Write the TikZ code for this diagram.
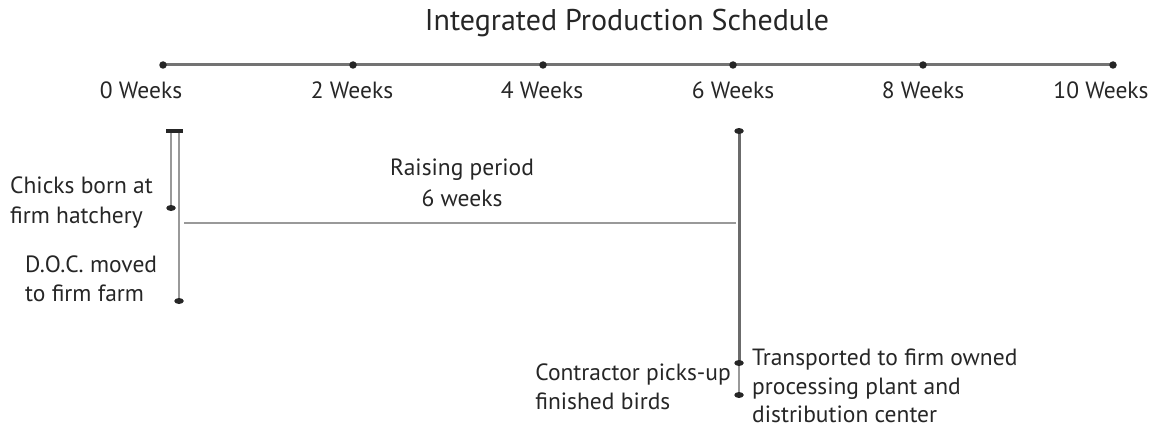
\documentclass[tikz,border=0pt]{standalone}
\usepackage{fontspec}
\usetikzlibrary{shapes.geometric}
\setmainfont{PT Sans}
\begin{document}
\begin{tikzpicture}[x=1pt,y=-1pt,
  lbl/.style={inner sep=0pt,font=\fontsize{23.5}{29}\selectfont,text=black!85},
  wk/.style={lbl,anchor=base},
  ln/.style={lbl,anchor=base west},
  axis/.style={line width=3pt,draw=black!55},
  bar/.style={line width=2.8pt,draw=black!40},
  dot/.style={circle,fill=black!85,inner sep=0pt,minimum size=7.5pt},
  flat/.style={ellipse,fill=black!85,inner sep=0pt,minimum width=9.5pt,minimum height=6pt}]
\useasboundingbox (0,0) rectangle (1154,428);

% title
\node[lbl,anchor=base,font=\fontsize{30}{36}\selectfont] (title) at (627,31) {Integrated Production Schedule};

% time axis with tick dots and week labels
\foreach \i/\x in {0/163,1/353,2/543,3/733,4/923,5/1113}
  \coordinate (t\i) at (\x,65);
\draw[axis] (t0) -- (t5);
\foreach \i in {0,...,5} \node[dot] (d\i) at (t\i) {};
\node[wk] (w0) at (141,98) {0 Weeks};
\node[wk] (w2) at (352,98) {2 Weeks};
\node[wk] (w4) at (542,98) {4 Weeks};
\node[wk] (w6) at (733,98) {6 Weeks};
\node[wk] (w8) at (923,98) {8 Weeks};
\node[wk] (w10) at (1101,98) {10 Weeks};

% hatchery and farm markers
\coordinate (a1) at (171,131);
\coordinate (a2) at (171,208);
\coordinate (b1) at (179,131);
\coordinate (b2) at (179,301);
\draw[bar] (a1) -- (a2);
\draw[bar] (b1) -- (b2);
\draw[line width=3.2pt,draw=black!85] (166,131) -- (183,131);
\node[flat] (ea) at (a2) {};
\node[flat] (eb) at (b2) {};

% raising period
\coordinate (r1) at (184,223);
\coordinate (r2) at (736,223);
\draw[bar] (r1) -- (r2);
\node[lbl,anchor=base] (raise1) at (462,175) {Raising period};
\node[lbl,anchor=base] (raise2) at (462,206) {6 weeks};

% pick-up and transport
\coordinate (c1) at (739,131);
\coordinate (c2) at (739,363);
\coordinate (c3) at (739,395);
\draw[line width=3pt,draw=black!58] (c1) -- (c2);
\draw[bar] (c2) -- (c3);
\node[flat] (ec1) at (c1) {};
\node[flat] (ec2) at (c2) {};
\node[flat] (ec3) at (c3) {};

% labels
\node[ln] (chicks1) at (10,193) {Chicks born at};
\node[ln] (chicks2) at (10,223) {firm hatchery};
\node[ln] (doc1) at (25,272) {D.O.C. moved};
\node[ln] (doc2) at (25,301) {to firm farm};
\node[lbl,anchor=base east] (pick1) at (731,380) {Contractor picks-up};
\node[ln] (pick2) at (pick1.base west |- 0,409) {finished birds};
\node[ln] (trans1) at (752,365) {Transported to firm owned};
\node[ln] (trans2) at (752,394) {processing plant and};
\node[ln] (trans3) at (752,422) {distribution center};
\end{tikzpicture}
\end{document}
